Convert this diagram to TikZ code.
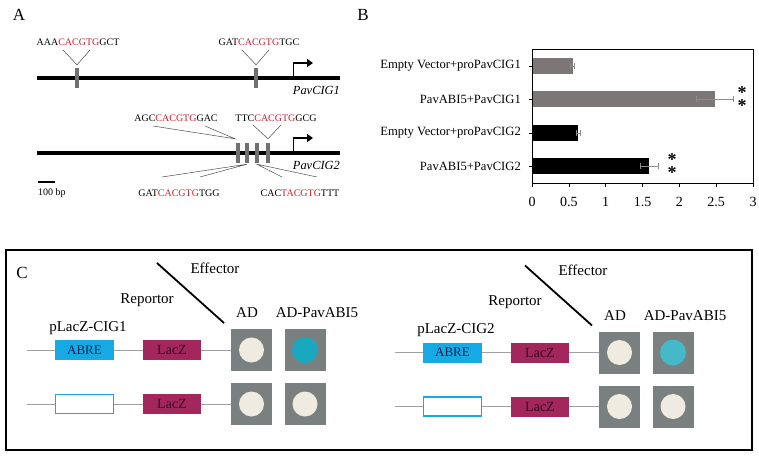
\documentclass[tikz,border=0pt]{standalone}
\usepackage{fontspec}
\setmainfont{Liberation Serif}
\usetikzlibrary{arrows.meta}
\definecolor{motifred}{RGB}{200,30,45}
\definecolor{markgray}{RGB}{112,112,112}
\definecolor{bargray}{RGB}{125,118,118}
\definecolor{errgray}{RGB}{140,140,140}
\definecolor{abrecyan}{RGB}{22,170,228}
\definecolor{abretext}{RGB}{25,35,80}
\definecolor{lacred}{RGB}{163,38,93}
\definecolor{lactext}{RGB}{55,10,30}
\definecolor{linkgray}{RGB}{160,160,160}
\definecolor{plategray}{RGB}{122,128,128}
\definecolor{spotwhite}{RGB}{239,235,224}
\definecolor{spotblue1}{RGB}{25,168,192}
\definecolor{spotblue2}{RGB}{70,185,200}
\newcommand{\motif}[3]{#1\textcolor{motifred}{#2}#3}
\begin{document}
\begin{tikzpicture}[x=1pt, y=-1pt,
  panelletter/.style={font=\fontsize{17}{20}\selectfont, inner sep=0},
  seqlabel/.style={font=\fontsize{10}{12}\selectfont, inner sep=0},
  genelabel/.style={font=\fontsize{12.4}{14}\selectfont\itshape, inner sep=0},
  leader/.style={draw=black!70, line width=0.5pt},
  sitebox/.style={rectangle, fill=markgray, minimum width=4pt, minimum height=20pt, inner sep=0},
  catlabel/.style={font=\fontsize{12.6}{14}\selectfont, inner sep=0},
  signif/.style={font=\fontsize{18}{13.5}\selectfont\bfseries, align=center, inner sep=0},
  cfont/.style={font=\fontsize{15}{17}\selectfont, inner sep=0},
  abrebox/.style={rectangle, fill=abrecyan, text=abretext, minimum width=59pt, minimum height=20pt, inner sep=0, font=\fontsize{13}{15}\selectfont},
  lacbox/.style={rectangle, fill=lacred, text=lactext, minimum width=58pt, minimum height=20pt, inner sep=0, font=\fontsize{14}{16}\selectfont},
  emptybox/.style={rectangle, draw=abrecyan, line width=1.2pt, fill=white, minimum width=58pt, minimum height=19pt, inner sep=0},
  plate/.style={rectangle, fill=plategray, minimum width=41pt, minimum height=42pt, inner sep=0},
  linkline/.style={draw=linkgray, line width=1pt}]
  \useasboundingbox (0,0) rectangle (759,457);

  % A: promoters
  \node[panelletter] (lblA) at (19,15) {A};
  \draw[line width=4pt] (37,78) -- (340,78);
  \draw[line width=4pt] (37,153) -- (340,153);
  \node[sitebox] (s11) at (77,78) {};
  \node[sitebox] (s12) at (256,78) {};
  \foreach \n/\x in {1/238,2/247,3/257,4/268}
    \node[sitebox] (s2\n) at (\x,153) {};
  \node[seqlabel] (q11) at (78,42) {\motif{AAA}{CACGTG}{GCT}};
  \node[seqlabel] (q12) at (259,42) {\motif{GAT}{CACGTG}{TGC}};
  \node[seqlabel] (q21) at (176,118) {\motif{AGC}{CACGTG}{GAC}};
  \node[seqlabel] (q24) at (276,118) {\motif{TTC}{CACGTG}{GCG}};
  \node[seqlabel] (q22) at (179,193) {\motif{GAT}{CACGTG}{TGG}};
  \node[seqlabel] (q23) at (300,193) {\motif{CAC}{TACGTG}{TTT}};
  \coordinate (v11a) at (63,50);  \coordinate (v11b) at (90,50);
  \coordinate (v12a) at (242,50); \coordinate (v12b) at (269,50);
  \coordinate (v21a) at (153,126); \coordinate (v21b) at (205,126);
  \coordinate (v24a) at (253,125); \coordinate (v24b) at (281,125);
  \coordinate (v22a) at (162,177); \coordinate (v22b) at (200,177);
  \coordinate (v23a) at (282,177); \coordinate (v23b) at (317,177);
  \draw[leader] (v11a) -- ([yshift=3pt]s11.north) -- (v11b);
  \draw[leader] (v12a) -- ([yshift=3pt]s12.north) -- (v12b);
  \draw[leader] (v21a) -- ([shift={(-3pt,4pt)}]s21.north) -- (v21b);
  \draw[leader] (v24a) -- ([yshift=4pt]s24.north) -- (v24b);
  \draw[leader] (v22a) -- ([yshift=-1pt]s22.south) -- (v22b);
  \draw[leader] (v23a) -- ([yshift=-1pt]s23.south) -- (v23b);
  \node[genelabel, anchor=east] (g1) at (340,90) {PavCIG1};
  \node[genelabel, anchor=east] (g2) at (340,165) {PavCIG2};
  \foreach \yy in {78,153} {
    \draw[line width=0.8pt] (293,\yy) -- (293,\yy-15);
    \draw[line width=2.6pt, -{Triangle[length=6pt,width=8pt]}] (292.6,\yy-15) -- (313,\yy-15);
  }
  \draw[line width=2.4pt] (38,182) -- (55,182);
  \node[seqlabel, anchor=west] (scale) at (38,193) {100 bp};

  % B: bar chart
  \node[panelletter] (lblB) at (363,15) {B};
  \foreach \i/\yc/\val/\err/\col/\txt in {
      1/66/0.55/0.03/bargray/{Empty Vector+proPavCIG1},
      2/99/2.48/0.25/bargray/{PavABI5+PavCIG1},
      3/133/0.63/0.03/black/{Empty Vector+proPavCIG2},
      4/166/1.59/0.12/black/{PavABI5+PavCIG2}} {
    \fill[\col] (532,\yc-8) rectangle (532+\val*73.67,\yc+8);
    \draw[errgray, line width=0.6pt] (532+\val*73.67-\err*73.67,\yc) -- (532+\val*73.67+\err*73.67,\yc);
    \draw[errgray, line width=0.6pt] (532+\val*73.67+\err*73.67,\yc-3) -- ++(0,6);
    \draw[errgray, line width=0.6pt] (532+\val*73.67-\err*73.67,\yc-3) -- ++(0,6);
    \draw[line width=0.6pt] (532,\yc) -- ++(-3,0);
    \node[catlabel, anchor=east] (cat\i) at (521,\yc) {\txt};
  }
  \draw[line width=0.9pt] (532,49) rectangle (753,183);
  \foreach \v in {0,0.5,1,1.5,2,2.5,3} {
    \draw[line width=0.6pt] (532+\v*73.67,183) -- ++(0,4);
    \node[catlabel, font=\fontsize{14}{16}\selectfont] (tick\v) at (532+\v*73.67,202) {\v};
  }
  \node[signif] (astA) at (742,99) {*\\*};
  \node[signif] (astB) at (672,166) {*\\*};

  % C: yeast one-hybrid
  \draw[line width=1.3pt] (6,250) rectangle (752,450);
  \node[panelletter] (lblC) at (22,273) {C};
  \foreach \dx/\dy/\g in {0/0/1, 368/2.5/2} {
    \begin{scope}[shift={(\dx,\dy)}]
      \node[cfont] (eff\g) at (215,268) {Effector};
      \node[cfont] (rep\g) at (147,300) {Reportor};
      \node[cfont] (ad\g) at (247,313) {AD};
      \node[cfont] (abi\g) at (317,313) {AD-PavABI5};
      \node[cfont] (plac\g) at (88,328) {pLacZ-CIG\g};
      \coordinate (dg1\g) at (157,263);
      \coordinate (dg2\g) at (224,323);
      \draw[line width=1.8pt] (dg1\g) -- (dg2\g);
      % row with ABRE
      \coordinate (r1s\g) at (27,350);
      \node[abrebox] (abre\g) at (84.5,350) {ABRE};
      \node[lacbox] (lacA\g) at (172,350) {LacZ};
      \node[plate] (p1\g) at (251.5,350) {};
      \node[plate] (p2\g) at (305,350) {};
      \draw[linkline] (r1s\g) -- (abre\g) -- (lacA\g) -- (p1\g);
      \fill[spotwhite] (p1\g) circle (12.5);
      \fill[spotblue\g] (p2\g) circle (13);
      % row without ABRE
      \coordinate (r2s\g) at (27,404);
      \node[emptybox] (emp\g) at (84.5,404) {};
      \node[lacbox] (lacB\g) at (172,404) {LacZ};
      \node[plate] (p3\g) at (251.5,404) {};
      \node[plate] (p4\g) at (305,404) {};
      \draw[linkline] (r2s\g) -- (emp\g) -- (lacB\g) -- (p3\g);
      \fill[spotwhite] (p3\g) circle (12.5);
      \fill[spotwhite] (p4\g) circle (12.5);
    \end{scope}
  }
\end{tikzpicture}
\end{document}
